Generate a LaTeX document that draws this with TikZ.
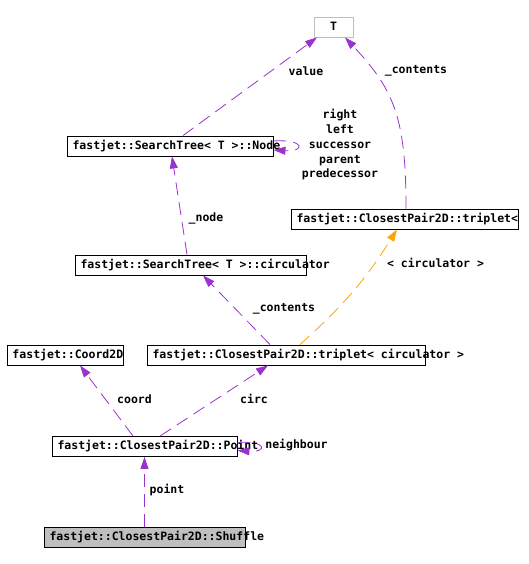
\documentclass[tikz,border=0pt]{standalone}
\usepackage{fontspec}
\setmonofont{DejaVu Sans Mono}
\usetikzlibrary{arrows.meta}
\definecolor{edgepurple}{HTML}{9A32CD}
\definecolor{edgeorange}{HTML}{FFA500}
\definecolor{boxgray}{HTML}{BFBFBF}
\tikzstyle{cls}=[draw=black,
                 line width=0.9pt,
                 inner sep=0pt,
                 minimum height=20pt,
                 text height=8.5pt,
                 text depth=2pt,
                 font=\ttfamily\bfseries\fontsize{11.5}{14}\selectfont]
\tikzstyle{lbl}=[inner sep=0pt,
                 align=center,
                 font=\ttfamily\bfseries\fontsize{11.5}{14.75}\selectfont]
\tikzstyle{uses}=[edgepurple,line width=0.8pt,dash pattern=on 13pt off 7pt,
                  -{Triangle[length=12pt,width=8pt]}]
\tikzstyle{tmpl}=[uses,edgeorange]
\newcommand{\clsname}[2]{\makebox[#1][l]{\hspace*{5.5pt}#2}}

\begin{document}
\begin{tikzpicture}[x=1pt,y=-1pt]
    \useasboundingbox (0,0) rectangle (528,564);
    % classes
    \node[cls,draw=boxgray,minimum width=39pt] (T) at (333.5,27) {T};
    \node[cls] (stnode) at (170,146) {\clsname{206pt}{fastjet::SearchTree< T >::Node}};
    \node[cls] (tripletc) at (404.5,219) {\clsname{227pt}{fastjet::ClosestPair2D::triplet<}};
    \node[cls] (circulator) at (190.5,265) {\clsname{231pt}{fastjet::SearchTree< T >::circulator}};
    \node[cls] (coord) at (65,355) {\clsname{116pt}{fastjet::Coord2D}};
    \node[cls] (tripcirc) at (286,355) {\clsname{278pt}{fastjet::ClosestPair2D::triplet< circulator >}};
    \node[cls] (point) at (144.5,446.5) {\clsname{185pt}{fastjet::ClosestPair2D::Point}};
    \node[cls,fill=boxgray] (shuffle) at (144.5,537) {\clsname{201pt}{fastjet::ClosestPair2D::Shuffle}};

    % member labels
    \node[lbl] (valuelbl) at (306,71) {value};
    \node[lbl] (contentslbl) at (416,71) {\_contents};
    \node[lbl] (linkslbl) at (340,145) {right\\left\\successor\\parent\\predecessor};
    \node[lbl] (nodelbl) at (206,218) {\_node};
    \node[lbl] (contentslbltwo) at (284,309) {\_contents};
    \node[lbl] (argslbl) at (435.5,263) {< circulator >};
    \node[lbl] (coordlbl) at (134.5,399) {coord};
    \node[lbl] (circlbl) at (254,399) {circ};
    \node[lbl] (neighbourlbl) at (296.5,445) {neighbour};
    \node[lbl] (pointlbl) at (167,490) {point};

    \draw[uses] ([xshift=13pt]stnode.north) -- ([xshift=-16.5pt]T.south);
    \draw[uses] ([xshift=1.5pt]tripletc.north) .. controls +(0,-89) and +(50,53) .. ([xshift=11.5pt]T.south);
    \draw[uses] ([yshift=5pt]stnode.east) .. controls +(32,-2) and +(32,2) .. ([yshift=-4pt]stnode.east);
    \draw[uses] ([xshift=-3.5pt]circulator.north) -- ([xshift=2pt]stnode.south);
    \draw[uses] ([xshift=-16pt]tripcirc.north) -- ([xshift=12.5pt]circulator.south);
    \draw[tmpl] ([xshift=14pt]tripcirc.north) to[bend right=8] ([xshift=-7.5pt]tripletc.south);
    \draw[uses] ([xshift=-11.5pt]point.north) -- ([xshift=15pt]coord.south);
    \draw[uses] ([xshift=15.5pt]point.north) -- ([xshift=-18pt]tripcirc.south);
    \draw[uses] ([yshift=4pt]point.east) .. controls +(30,-2) and +(30,2) .. ([yshift=-4pt]point.east);
    \draw[uses] (shuffle.north) -- (point.south);
\end{tikzpicture}
\end{document}
